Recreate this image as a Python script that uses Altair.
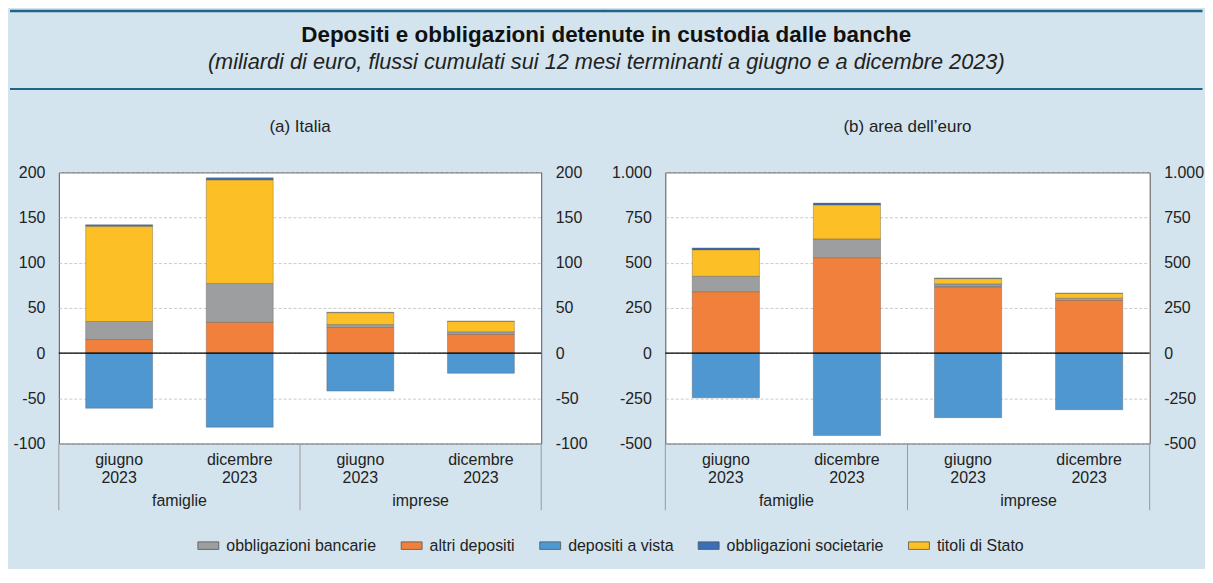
import altair as alt
import pandas as pd

# ---- data ----
cats = ["famiglie|giugno 2023", "famiglie|dicembre 2023", "imprese|giugno 2023", "imprese|dicembre 2023"]
groups = ["famiglie", "imprese"]
series = ["obbligazioni bancarie", "altri depositi", "depositi a vista", "obbligazioni societarie", "titoli di Stato"]
colors = ["#9c9e9f", "#f0803c", "#4f97d1", "#3a6fb7", "#fcbf26"]
stack_rank = [1, 0, 4, 3, 2]

ita_bancarie = [20, 43, 3.3, 3]
ita_altri = [15, 34, 28.3, 20.6]
ita_vista = [-61, -82, -42, -22.4]
ita_societarie = [2, 2.5, 0.6, 0.5]
ita_stato = [105, 114.5, 13, 11.4]

eur_bancarie = [86, 105, 17, 13]
eur_altri = [339, 527, 366, 291]
eur_vista = [-247, -456, -357, -313]
eur_societarie = [11, 11, 4, 2]
eur_stato = [146, 187, 29, 26]

ita_ticks = [-100, -50, 0, 50, 100, 150, 200]
eur_ticks = [-500, -250, 0, 250, 500, 750, 1000]

TEAL = "#1d6584"
TXT = "#222222"
FONT = "Liberation Sans"
FS = 16
H = 272


def long_df(cols):
    rows = []
    for s, vals, rk in zip(series, cols, stack_rank):
        for c, v in zip(cats, vals):
            rows.append({"cat": c, "serie": s, "value": v, "ord": rk})
    return pd.DataFrame(rows)


num_expr = "(datum.value < 0 ? '-' : '') + replace(format(abs(datum.value), ','), ',', '.')"


def panel(cols, title, ticks, W, ext_l, ext_r, over_r):
    df = long_df(cols)
    xscale = alt.Scale(domain=cats, paddingInner=0, paddingOuter=0)
    xaxis = alt.Axis(title=None, labelExpr="split(split(datum.label, '|')[1], ' ')",
                     labelAngle=0, ticks=False, domain=False, labelPadding=8,
                     labelLineHeight=18.3, labelFontSize=FS, labelColor=TXT, labelFont=FONT)

    def X(bp=None):
        if bp is None:
            return alt.X("cat:N", scale=xscale, axis=xaxis)
        return alt.X("cat:N", scale=xscale, axis=xaxis, bandPosition=bp)

    yscale = alt.Scale(domain=[ticks[0], ticks[-1]], nice=False, zero=False)
    common = dict(title=None, values=ticks, labelExpr=num_expr, ticks=False, domain=False,
                  labelPadding=14, labelFontSize=FS, labelColor=TXT, labelFont=FONT)
    yleft = alt.Axis(orient="left", grid=True, gridColor="#bdbdbd", gridDash=[3, 2],
                     gridWidth=0.8, minExtent=ext_l, **common)
    yright = alt.Axis(orient="right", grid=False, minExtent=ext_r, **common)

    bars = alt.Chart(df).mark_bar(
        width=alt.RelativeBandSize(0.555), stroke="#555555", strokeWidth=0.6, strokeOpacity=0.6
    ).encode(
        x=X(),
        y=alt.Y("value:Q", stack="zero", scale=yscale, axis=yleft),
        color=alt.Color("serie:N", scale=alt.Scale(domain=series, range=colors),
                        legend=alt.Legend(orient="none", legendX=139, legendY=363.5,
                                          direction="horizontal", title=None,
                                          symbolType="M-1,-0.36H1V0.36H-1Z", symbolSize=441,
                                          symbolStrokeWidth=0.8, labelFontSize=FS,
                                          labelColor=TXT, labelFont=FONT, labelOffset=7,
                                          columnPadding=22)),
        order=alt.Order("ord:Q", sort="ascending"),
    )
    zero = alt.Chart(pd.DataFrame({"z": [0]})).mark_rule(color="black", strokeWidth=1.2).encode(
        y=alt.Y("z:Q", scale=yscale, axis=yright)
    )
    div_start = alt.Chart(pd.DataFrame({"cat": [cats[0], cats[2]]})).mark_rule(
        color="#9a9a9a", strokeWidth=1
    ).encode(x=X(0), y=alt.value(H), y2=alt.value(H + 67))
    div_end = alt.Chart(pd.DataFrame({"cat": [cats[3]]})).mark_rule(
        color="#9a9a9a", strokeWidth=1
    ).encode(x=X(1), y=alt.value(H), y2=alt.value(H + 67))
    grp = alt.Chart(pd.DataFrame({"cat": [cats[1], cats[3]], "grp": groups})).mark_text(
        fontSize=FS, color=TXT, baseline="alphabetic", font=FONT
    ).encode(x=X(0), y=alt.value(H + 63), text="grp:N")
    line1 = alt.Chart(pd.DataFrame({"k": [0]})).mark_rule(color=TEAL, strokeWidth=2.5).encode(
        x=alt.value(-ext_l), x2=alt.value(W + ext_r + over_r), y=alt.value(-162)
    )
    line2 = alt.Chart(pd.DataFrame({"k": [0]})).mark_rule(color=TEAL, strokeWidth=2).encode(
        x=alt.value(-ext_l), x2=alt.value(W + ext_r + over_r), y=alt.value(-83.7)
    )
    return alt.layer(bars, zero, div_start, div_end, grp, line1, line2).resolve_axis(
        y="independent"
    ).properties(
        width=W, height=H,
        title=alt.TitleParams(title, fontSize=17, fontWeight="normal", offset=-127,
                              anchor="middle", color=TXT, font=FONT),
    )


left = panel([ita_bancarie, ita_altri, ita_vista, ita_societarie, ita_stato],
             "(a) Italia", ita_ticks, 484, 49, 61, 2)
right = panel([eur_bancarie, eur_altri, eur_vista, eur_societarie, eur_stato],
              "(b) area dell\u2019euro", eur_ticks, 486, 62, 53, 0)

chart = alt.hconcat(left, right, spacing=-4.5).properties(
    title=alt.TitleParams(
        "Depositi e obbligazioni detenute in custodia dalle banche",
        subtitle="(miliardi di euro, flussi cumulati sui 12 mesi terminanti a giugno e a dicembre 2023)",
        fontSize=22.5, fontWeight="bold", subtitleFontSize=21.8, subtitleFontStyle="italic",
        anchor="middle", offset=-65, subtitlePadding=6, color="#111111",
        subtitleColor=TXT, font=FONT, subtitleFont=FONT,
    ),
    background="#d3e4ee",
    padding={"left": 0, "top": 0, "right": 0, "bottom": 14},
).configure(font=FONT).configure_view(stroke="#555555", strokeWidth=1, fill="white")

chart.save("out.html", embed_options={"renderer": "svg", "actions": False})
